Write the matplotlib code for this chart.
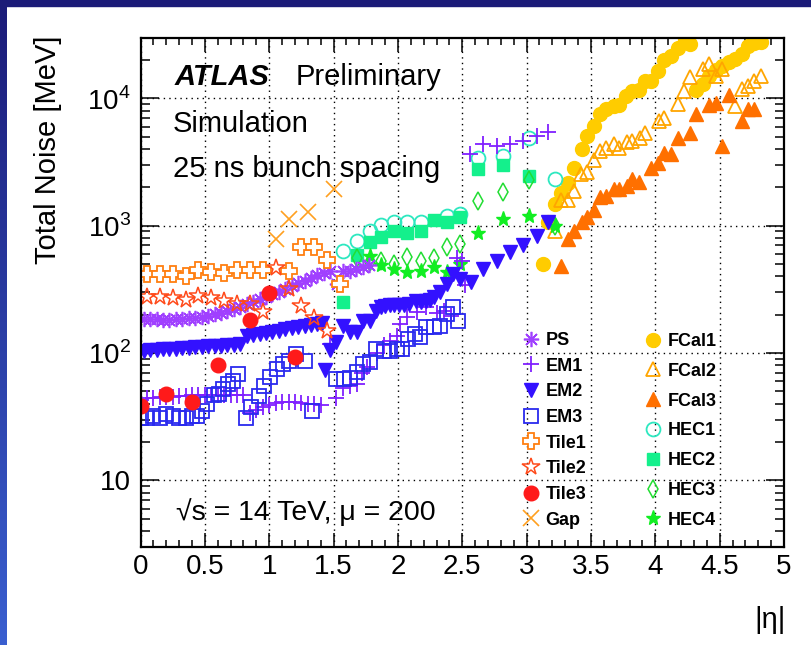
import numpy as np
import matplotlib.pyplot as plt
from matplotlib.patches import Rectangle
from matplotlib.colors import LinearSegmentedColormap
from matplotlib.ticker import MultipleLocator, FixedLocator, LogLocator, NullFormatter

plt.rcParams['font.family'] = ['Liberation Sans', 'DejaVu Sans']
plt.rcParams['mathtext.fontset'] = 'custom'
plt.rcParams['mathtext.rm'] = 'Liberation Sans'

# ---- data: |eta| positions and total noise in MeV ----
ps_eta = [0.025, 0.075, 0.125, 0.175, 0.225, 0.275, 0.325, 0.375, 0.425, 0.475,
          0.525, 0.575, 0.625, 0.675, 0.725, 0.775, 0.825, 0.875, 0.925, 0.975,
          1.025, 1.075, 1.125, 1.175, 1.225, 1.275, 1.325, 1.375, 1.425, 1.475,
          1.525, 1.575, 1.625, 1.675, 1.725, 1.775]
ps_val = [186, 185, 184, 183, 183, 184, 186, 188, 190, 192,
          196, 201, 207, 214, 222, 231, 241, 252, 264, 277,
          290, 303, 318, 334, 352, 370, 390, 410, 425, 440,
          350, 440, 440, 455, 470, 490]

em1_eta = [0.0, 0.05, 0.1, 0.15, 0.2, 0.25, 0.3, 0.35, 0.4, 0.45, 0.5, 0.55, 0.6,
           0.65, 0.7, 0.75, 0.8,
           0.85, 0.9, 0.95, 1.0, 1.05, 1.1, 1.15, 1.2, 1.25, 1.3, 1.35, 1.4,
           1.47, 1.52, 1.57, 1.63, 1.68, 1.72, 1.76, 1.84, 1.89, 1.94, 1.99,
           2.02, 2.07, 2.15, 2.22, 2.3, 2.36, 2.41, 2.46, 2.5, 2.52,
           2.56, 2.66, 2.77, 2.87, 2.97, 3.08, 3.17]
em1_val = [43, 44, 44.5, 45, 45.5, 45.5, 46, 46, 46.5, 46.5, 47, 47, 47,
           47, 47, 46.5, 46.5,
           34, 36, 37.5, 39, 40.5, 41, 41, 41, 40.5, 40, 39.5, 39,
           118, 44, 53, 55, 57, 70, 78, 100, 115, 125, 137,
           170, 193, 210, 230, 208, 215, 195, 560, 530, 340,
           3640, 4360, 4200, 4360, 4600, 5030, 5400]

em2_eta = [0.025, 0.075, 0.125, 0.175, 0.225, 0.275, 0.325, 0.375, 0.425, 0.475,
           0.525, 0.575, 0.625, 0.675, 0.725, 0.775, 0.825, 0.875, 0.925, 0.975,
           1.025, 1.075, 1.125, 1.175, 1.225, 1.275, 1.325, 1.375, 1.41,
           1.43, 1.47, 1.52, 1.57, 1.63, 1.68, 1.73, 1.78, 1.83, 1.87, 1.9,
           1.94, 1.97, 2.01, 2.05, 2.09, 2.14, 2.18, 2.22, 2.25, 2.28, 2.33,
           2.38, 2.43, 2.48, 2.57, 2.66, 2.77, 2.87, 2.97, 3.08, 3.17]
em2_val = [104, 105, 106, 107, 107.5, 108.5, 109.5, 110, 111, 112,
           113, 114, 114.5, 115.5, 116.5, 118, 135, 138, 141, 144,
           147, 150, 153, 156, 159, 162, 165, 168, 172,
           73, 105, 122, 163, 146, 146, 178, 178, 215, 230, 235,
           240, 240, 240, 240, 242, 255, 252, 255, 262, 275, 300,
           350, 420, 380, 360, 455, 525, 620, 700, 830, 1060]

em3_eta = [0.0, 0.05, 0.1, 0.15, 0.2, 0.25, 0.3, 0.35, 0.4, 0.44, 0.48, 0.52,
           0.57, 0.61, 0.64, 0.68, 0.72, 0.76,
           0.82, 0.86, 0.92, 0.96, 1.01, 1.06, 1.11, 1.15, 1.21, 1.28, 1.33,
           1.52, 1.58, 1.63, 1.68, 1.73, 1.78, 1.83, 1.89, 1.94, 1.99, 2.03,
           2.08, 2.13, 2.17, 2.22, 2.28, 2.33, 2.38, 2.43, 2.47]
em3_val = [31, 31, 32, 31, 33, 32, 31, 31, 32, 32, 35, 40,
           47, 48, 52, 57, 60, 69,
           31, 38, 46, 55, 65, 75, 82, 86, 98, 87, 35,
           62, 62, 64, 71, 82, 85, 108, 103, 103, 108, 108,
           129, 141, 133, 161, 161, 163, 202, 230, 179]

tile1_eta = [0.05, 0.15, 0.25, 0.35, 0.45, 0.55, 0.65, 0.75, 0.85, 0.95,
             1.15, 1.25, 1.35, 1.45, 1.55]
tile1_val = [420, 420, 420, 405, 445, 432, 425, 452, 445, 452,
             438, 680, 680, 535, 350]

tile2_eta = [0.05, 0.15, 0.25, 0.35, 0.45, 0.55, 0.65, 0.75, 0.85, 0.95,
             1.05, 1.15, 1.25, 1.35, 1.45]
tile2_val = [275, 275, 270, 261, 279, 270, 256, 242, 242, 210,
             464, 316, 234, 190, 149]

tile3_eta = [0.0, 0.2, 0.4, 0.6, 0.85, 1.0, 1.2]
tile3_val = [38.5, 48, 41, 81, 182, 294, 93]

gap_eta = [1.05, 1.15, 1.3, 1.5]
gap_val = [780, 1120, 1280, 1930]

fcal1_eta = [3.13, 3.17, 3.22, 3.27, 3.32, 3.37, 3.43, 3.47, 3.52, 3.57, 3.62,
             3.68, 3.72, 3.77, 3.82, 3.87, 3.92, 3.97, 4.02, 4.07, 4.12, 4.18,
             4.23, 4.27, 4.32, 4.37, 4.42, 4.47, 4.52, 4.57, 4.62, 4.67, 4.72,
             4.77, 4.82]
fcal1_val = [500, 1070, 1470, 1820, 2180, 2860, 3980, 5060, 6060, 7490, 8300,
             8700, 8810, 10400, 11400, 11600, 13700, 13700, 16400, 20000, 21500, 25000,
             29000, 26500, 11700, 13000, 14950, 16700, 17900, 19300, 20200, 22100, 25700,
             27300, 27700]

fcal2_eta = [3.22, 3.27, 3.32, 3.37, 3.42, 3.47, 3.52, 3.57, 3.62, 3.68, 3.72,
             3.78, 3.82, 3.88, 3.92, 4.03, 4.07, 4.18, 4.22, 4.27, 4.37, 4.42,
             4.47, 4.52, 4.62, 4.67, 4.72, 4.77, 4.82]
fcal2_val = [910, 1580, 1580, 1880, 2530, 2640, 3280, 3860, 4100, 4360, 4100,
             4500, 4630, 4920, 5320, 6650, 7050, 8970, 11400, 14800, 16900, 18500,
             14950, 16900, 8700, 11770, 12500, 13700, 14950]

fcal3_eta = [3.27, 3.32, 3.37, 3.43, 3.47, 3.52, 3.57, 3.62, 3.68, 3.72, 3.78,
             3.82, 3.87, 3.97, 4.02, 4.07, 4.12, 4.18, 4.27, 4.32, 4.42, 4.47,
             4.52, 4.57, 4.67, 4.72, 4.77]
fcal3_val = [478, 785, 910, 1070, 1160, 1330, 1690, 1710, 1930, 1930, 2050,
             2320, 2210, 2860, 3130, 3710, 3640, 4920, 5320, 7490, 8810, 9140,
             4230, 10550, 6650, 8300, 8300]

hec1_eta = [1.575, 1.68, 1.78, 1.87, 1.97, 2.07, 2.18, 2.38, 2.48, 2.62, 2.82, 3.02, 3.22]
hec1_val = [630, 760, 900, 1010, 1060, 1070, 1070, 1200, 1230, 3370, 3550, 4850, 2320]

hec2_eta = [1.575, 1.68, 1.78, 1.87, 1.97, 2.07, 2.18, 2.28, 2.38, 2.48, 2.62, 2.82, 3.02]
hec2_val = [252, 590, 740, 820, 900, 880, 900, 1110, 1060, 1160, 2780, 2980, 2460]

hec3_eta = [1.68, 1.78, 1.87, 1.97, 2.07, 2.18, 2.28, 2.38, 2.48, 2.62, 2.82, 3.02, 3.22]
hec3_val = [560, 520, 530, 500, 570, 530, 560, 675, 720, 1570, 1830, 2300, 1000]

hec4_eta = [1.78, 1.87, 1.97, 2.07, 2.18, 2.28, 2.38, 2.48, 2.62, 2.82, 3.02, 3.22]
hec4_val = [580, 490, 460, 435, 442, 470, 435, 500, 870, 1130, 1190, 1000]

W, H = 811, 645


def fx(x):
    return x / W


def fy(y):
    return 1 - y / H


fig = plt.figure(figsize=(W / 100, H / 100), dpi=100)

# slide frame: navy band on top, gradient band on the left
fig.add_artist(Rectangle((0, fy(6)), 1, 6 / H, transform=fig.transFigure,
                         color='#1b1b78', zorder=0))
band = fig.add_axes([0, 0, 7 / W, 1])
grad = LinearSegmentedColormap.from_list('band', ['#1b1b78', '#3a5fd0'])
band.imshow(np.linspace(0, 1, 256).reshape(-1, 1), cmap=grad, aspect='auto')
band.axis('off')

ax = fig.add_axes([fx(140.5), fy(547), (784 - 140.5) / W, (547 - 37.5) / H])

# FCal / HEC first so the EM and Tile points sit on top
h = {}
h['FCal1'], = ax.plot(fcal1_eta, fcal1_val, ls='none', marker='o', ms=10,
                      color='#ffcc00', mec='#ffcc00')
h['FCal2'], = ax.plot(fcal2_eta, fcal2_val, ls='none', marker='^', ms=10.5,
                      mfc='none', mec='#ffa500', mew=1.3)
h['FCal3'], = ax.plot(fcal3_eta, fcal3_val, ls='none', marker='^', ms=10,
                      color='#ff7000', mec='#ff7000')
h['HEC1'], = ax.plot(hec1_eta, hec1_val, ls='none', marker='o', ms=10,
                     mfc='none', mec='#2de8c0', mew=1.3)
h['HEC2'], = ax.plot(hec2_eta, hec2_val, ls='none', marker='s', ms=9,
                     color='#14f08c', mec='#14f08c')
h['HEC3'], = ax.plot(hec3_eta, hec3_val, ls='none', marker='d', ms=9,
                     mfc='none', mec='#22dd33', mew=1.1)
h['HEC4'], = ax.plot(hec4_eta, hec4_val, ls='none', marker='*', ms=11,
                     color='#11ee22', mec='#11ee22')
h['PS'], = ax.plot(ps_eta, ps_val, ls='none', marker=(8, 2, 0), ms=11,
                   mec='#a040ff', mew=1.2)
h['EM1'], = ax.plot(em1_eta, em1_val, ls='none', marker='+', ms=12,
                    mec='#8020ff', mew=1.3)
h['EM2'], = ax.plot(em2_eta, em2_val, ls='none', marker='v', ms=10,
                    color='#3311ff', mec='#3311ff')
h['EM3'], = ax.plot(em3_eta, em3_val, ls='none', marker='s', ms=10.5,
                    mfc='none', mec='#2a2aee', mew=1.3)
h['Tile1'], = ax.plot(tile1_eta, tile1_val, ls='none', marker='P', ms=12,
                      mfc='white', mec='#ff7f10', mew=1.3)
h['Tile2'], = ax.plot(tile2_eta, tile2_val, ls='none', marker='*', ms=13,
                      mfc='none', mec='#ff4a1a', mew=1.1)
h['Tile3'], = ax.plot(tile3_eta, tile3_val, ls='none', marker='o', ms=10.5,
                      color='#ff1a1a', mec='#ff1a1a')
h['Gap'], = ax.plot(gap_eta, gap_val, ls='none', marker='x', ms=11,
                    mec='#ffa020', mew=1.2)

ax.set_xlim(0, 5)
ax.set_yscale('log')
ax.set_ylim(3, 3e4)

xt = np.arange(0, 5.01, 0.5)
ax.set_xticks(xt)
ax.set_xticklabels(['%g' % v for v in xt])
ax.xaxis.set_minor_locator(MultipleLocator(0.1))
ax.yaxis.set_major_locator(FixedLocator([10, 100, 1000, 10000]))
ax.set_yticklabels(['10', r'$10^{2}$', r'$10^{3}$', r'$10^{4}$'])
ax.yaxis.set_minor_locator(LogLocator(base=10, subs=np.arange(2, 10)))
ax.yaxis.set_minor_formatter(NullFormatter())

ax.tick_params(which='both', direction='in', top=True, right=True, width=1.1)
ax.tick_params(axis='x', which='major', length=10, labelsize=20, pad=5)
ax.tick_params(axis='x', which='minor', length=5)
ax.tick_params(axis='y', which='major', length=13, labelsize=20, pad=7)
ax.tick_params(axis='y', which='minor', length=6.5)
for s in ax.spines.values():
    s.set_linewidth(1.6)
ax.grid(True, which='major', color='black', ls=(0, (1, 3)), lw=1.0)

# axis titles in ROOT style
fig.text(fx(48), fy(35), 'Total Noise [MeV]', rotation=90, ha='center', va='top',
         fontsize=21)
fig.text(fx(770), fy(620), '|η|', ha='center', va='center', fontsize=21)

fig.text(fx(175), fy(85), 'ATLAS', fontsize=21, weight='bold', style='italic',
         va='baseline')
fig.text(fx(296), fy(85), 'Preliminary', fontsize=21, va='baseline')
fig.text(fx(173), fy(131.5), 'Simulation', fontsize=21, va='baseline')
fig.text(fx(173), fy(177), '25 ns bunch spacing', fontsize=21, va='baseline')
fig.text(fx(176), fy(520), '√s = 14 TeV, μ = 200', fontsize=20.5, va='baseline')

col1 = ['PS', 'EM1', 'EM2', 'EM3', 'Tile1', 'Tile2', 'Tile3', 'Gap']
col2 = ['FCal1', 'FCal2', 'FCal3', 'HEC1', 'HEC2', 'HEC3', 'HEC4']
leg_kw = dict(frameon=False, loc='upper left', bbox_transform=fig.transFigure,
              borderpad=0, borderaxespad=0, handlelength=1.0, handletextpad=0.33,
              numpoints=1, markerscale=1.0, prop={'weight': 'bold', 'size': 13})
leg1 = ax.legend([h[k] for k in col1], col1, bbox_to_anchor=(fx(521.7), fy(331.9)),
                 labelspacing=0.48, **leg_kw)
ax.add_artist(leg1)
ax.legend([h[k] for k in col2], col2, bbox_to_anchor=(fx(643.7), fy(332.9)),
          labelspacing=0.71, **leg_kw)

fig.savefig('out.png', dpi=100)
